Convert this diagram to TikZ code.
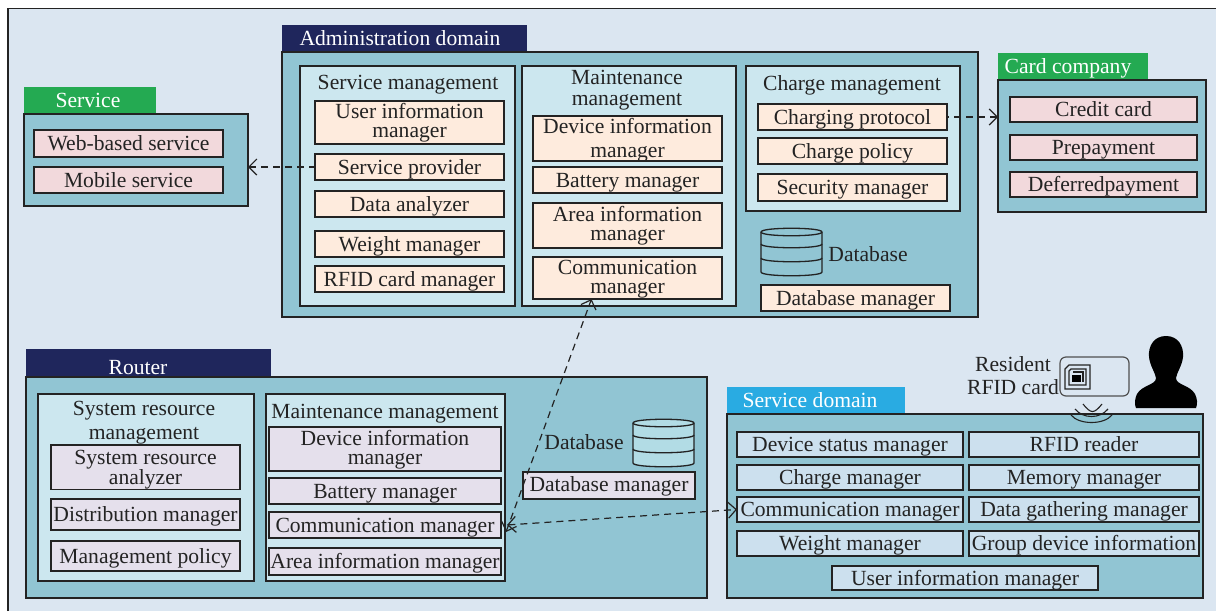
\documentclass[tikz,border=0pt]{standalone}
\usepackage{fontspec}
\setmainfont{Liberation Serif}
\usetikzlibrary{arrows.meta, calc}

\definecolor{pagefill}{RGB}{219,230,241}
\definecolor{panelfill}{RGB}{145,197,211}
\definecolor{groupfill}{RGB}{204,231,239}
\definecolor{peachfill}{RGB}{254,235,221}
\definecolor{pinkfill}{RGB}{242,217,220}
\definecolor{lilacfill}{RGB}{229,224,236}
\definecolor{devicefill}{RGB}{204,224,238}
\definecolor{drumfill}{RGB}{178,220,229}
\definecolor{navytab}{RGB}{31,38,92}
\definecolor{greentab}{RGB}{36,170,82}
\definecolor{bluetab}{RGB}{41,171,226}
\definecolor{inkline}{RGB}{35,35,35}
\definecolor{cardline}{RGB}{80,80,80}

\newcommand{\lowfirst}[1]{\rule{0pt}{#1pt}}

\tikzset{
	every node/.style = {font=\fontsize{21.6}{19}\selectfont, text=inkline, inner sep=0pt, outer sep=0pt, align=center},
	oneline/.style = {text height=14pt, text depth=0pt},
	framed/.style = {draw=inkline, line width=1.1pt, anchor=north west},
	panel/.style = {framed, fill=panelfill},
	group/.style = {framed, fill=groupfill},
	peach/.style = {framed, fill=peachfill},
	pink/.style = {framed, fill=pinkfill},
	lilac/.style = {framed, fill=lilacfill},
	lilachigh/.style = {lilac, text depth=3pt},
	device/.style = {framed, fill=devicefill},
	tab/.style = {anchor=north west},
	tabtext/.style = {oneline, text=white},
	dataflow/.style = {draw=inkline, line width=1.2pt, dash pattern=on 7pt off 5pt,
		arrows={Straight Barb[length=8pt,width=16pt,line width=1.2pt]-}},
	twoway/.style = {dataflow, arrows={Straight Barb[length=8pt,width=16pt,line width=1.2pt]-Straight Barb[length=8pt,width=16pt,line width=1.2pt]}},
	pics/dbstack/.style = {code={
		\draw [draw=inkline, line width=1.3pt, fill=#1]
			(0,4) .. controls (0,-1) and (61,-1) .. (61,4)
			-- (61,44) .. controls (61,49) and (0,49) .. (0,44) -- cycle;
		\draw [draw=inkline, line width=1.3pt] (0,4) .. controls (0,9) and (61,9) .. (61,4);
		\draw [draw=inkline, line width=1.3pt] (0,16) .. controls (0,21) and (61,21) .. (61,16);
		\draw [draw=inkline, line width=1.3pt] (0,30) .. controls (0,35) and (61,35) .. (61,30);
	}}
}

\begin{document}
\begin{tikzpicture}
[x=1pt, y=-1pt]
\useasboundingbox (0,0) rectangle (1216,611);
\fill [pagefill] (8,9) rectangle (1216,611);
\draw [inkline, line width=1.2pt] (8,611) -- (8,8.5) -- (1216,8.5);

% coloured title tabs
\foreach \name/\x/\y/\w/\h/\col/\tx/\ty/\txt in {
	admintab/282/25/245/27/navytab/400/38/{Administration domain},
	servicetab/24/87/132/27/greentab/88/100/{Service},
	cardtab/998/53/150/27/greentab/1068/66/{Card company},
	routertab/26/349/245/28/navytab/138/367/{Router},
	domaintab/727/387/178/27/bluetab/810/400/{Service domain}}{
	\node [tab, fill=\col, minimum width=\w pt, minimum height=\h pt] (\name) at (\x,\y) {};
	\node [tabtext] (\name text) at (\tx,\ty) {\txt};
}

% panels and groups
\foreach \name/\x/\y/\w/\h/\kind in {
	adminpanel/282/52/696/265/panel,
	servicepanel/24/114/224/92/panel,
	cardpanel/998/80/208/132/panel,
	routerpanel/26/377/681/221/panel,
	domainpanel/727/414/476/184/panel,
	servicegroup/300/66/215/240/group,
	maintgroup/522/66/214/240/group,
	chargegroup/746/66/214/145/group,
	systemgroup/38/394/216/187/group,
	routermaint/266/394/239/187/group}{
	\node [\kind, minimum width=\w pt, minimum height=\h pt] (\name) at (\x,\y) {};
}

% boxes with one line
\foreach \name/\x/\y/\w/\h/\kind/\txt in {
	serviceprovider/315/154/189/26/peach/{Service provider},
	dataanalyzer/315/191/189/26/peach/{Data analyzer},
	weightmanager/315/231/189/26/peach/{Weight manager},
	rfidmanager/315/266/189/26/peach/{RFID card manager},
	batterymanager/533/167/189/26/peach/{Battery manager},
	chargingprotocol/758/104/189/26/peach/{Charging protocol},
	chargepolicy/758/138/189/26/peach/{Charge policy},
	securitymanager/758/174/189/27/peach/{Security manager},
	admindb/761/285/189/26/peach/{Database manager},
	webservice/34/130/189/27/pink/{Web-based service},
	mobileservice/34/167/189/26/pink/{Mobile service},
	creditcard/1010/97/187/25/pink/{Credit card},
	prepayment/1010/135/187/25/pink/{Prepayment},
	deferred/1010/172/187/25/pink/{Deferredpayment},
	distmanager/51/499/189/31/lilac/{Distribution manager},
	mgmtpolicy/51/541/189/30/lilac/{Management policy},
	routerbattery/269/478/232/26/lilac/{Battery manager},
	routercomm/269/512/232/26/lilac/{Communication manager},
	routerarea/269/548/232/27/lilac/{Area information manager},
	routerdb/523/472/172/27/lilachigh/{Database manager},
	devicestatus/737/432/226/25/device/{Device status manager},
	chargemanager/737/465/226/25/device/{Charge manager},
	servicecomm/737/497/226/25/device/{Communication manager},
	serviceweight/737/531/226/25/device/{Weight manager},
	rfidreader/969/432/230/25/device/{RFID reader},
	memorymanager/969/465/230/25/device/{Memory manager},
	datagathering/969/497/230/25/device/{Data gathering manager},
	groupdevice/969/531/230/25/device/{Group device information},
	serviceuser/832/566/266/24/device/{User information manager}}{
	\node [oneline, \kind, minimum width=\w pt, minimum height=\h pt] (\name) at (\x,\y) {\txt};
}

% boxes with two lines
\foreach \name/\x/\y/\w/\h/\kind/\txt in {
	userinfo/315/101/189/43/peach/{User information\\manager},
	deviceinfo/533/116/189/45/peach/{},
	areainfo/533/203/189/45/peach/{Area information\\manager},
	admincomm/533/257/189/42/peach/{\lowfirst{17}Communication\\manager},
	sysanalyzer/51/445/189/44/lilac/{\lowfirst{19}System resource\\analyzer},
	routerdevice/269/427/232/44/lilac/{\lowfirst{17}Device information\\manager}}{
	\node [\kind, minimum width=\w pt, minimum height=\h pt] (\name) at (\x,\y) {\txt};
}

% plain labels
\node (deviceinfotext) at (627.5,140.5) {Device information\\[5pt]manager};
\node [oneline] (servicetitle) at (408,82) {Service management};
\node (mainttitle) at (627,90) {Maintenance\\[2pt]management};
\node [oneline] (chargetitle) at (852,83) {Charge management};
\node [oneline] (admindbtitle) at (868,254) {Database};
\node (systemtitle) at (144,423) {System resource\\[5pt]management};
\node [oneline] (routermainttitle) at (385,411) {Maintenance management};
\node [oneline] (routerdbtitle) at (584,442) {Database};
\node (residenttitle) at (1013,376) {Resident\\[4pt]RFID card};

% databases
\pic at (761,228) {dbstack=panelfill};
\pic at (633,419) {dbstack=drumfill};

% resident card and chip
\node [draw=cardline, line width=1.2pt, rounded corners=6pt, anchor=north west,
	minimum width=69pt, minimum height=39pt] (residentcard) at (1060,357) {};
\draw [inkline, line width=1.2pt] (1069,365) -- (1090,365) -- (1090,389) -- (1065,389) -- (1065,369) -- cycle;
\draw [inkline, line width=1.2pt] (1071,369) -- (1086,369) -- (1086,385) -- (1069,385) -- (1069,371) -- cycle;
\draw [inkline, line width=1.2pt] (1073,372) -- (1083,372) -- (1083,382);
\fill [black] (1072,375) rectangle (1081,382);

% person
\fill [black] (1166,336) .. controls (1178,336) and (1184,346) .. (1183,357)
	.. controls (1182,366) and (1177,372) .. (1176,378)
	.. controls (1176,385) and (1190,385) .. (1195,394)
	.. controls (1197,398) and (1198,404) .. (1196,408) -- (1136,408)
	.. controls (1134,404) and (1135,398) .. (1137,394)
	.. controls (1142,385) and (1156,385) .. (1156,378)
	.. controls (1155,372) and (1150,366) .. (1149,357)
	.. controls (1148,346) and (1154,336) .. (1166,336) -- cycle;

% radio waves
\foreach \a/\b/\c in {1083/1102/404, 1075/1108/409, 1071/1112/415}{
	\draw [inkline, line width=1.1pt] (\a,\c) .. controls (\a+8,\c+10) and (\b-8,\c+10) .. (\b,\c);
}

% connectors
\coordinate (riserport) at ([xshift=5pt,yshift=-7pt]routercomm.east);
\coordinate (linkport) at ([xshift=6pt]routercomm.east);
\draw [dataflow] (servicepanel.east |- serviceprovider.west) -- (serviceprovider.west);
\draw [dataflow] (cardpanel.west |- chargingprotocol.east) -- (chargingprotocol.east);
\draw [twoway] (riserport) -- ([xshift=-36pt]admincomm.south);
\draw [twoway] (linkport) -- (servicecomm.west);
\end{tikzpicture}
\end{document}
